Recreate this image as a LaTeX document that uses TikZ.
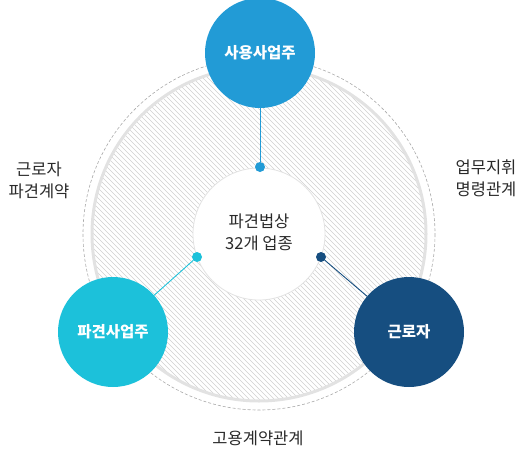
\documentclass[tikz,border=0pt]{standalone}
\usepackage{fontspec}
\setmainfont{Noto Sans CJK KR}
\usetikzlibrary{positioning}
\definecolor{usercol}{HTML}{229BD6}
\definecolor{dispcol}{HTML}{1CC1DA}
\definecolor{workcol}{HTML}{164E80}
\definecolor{txtcol}{HTML}{2A2A2A}
\definecolor{ringcol}{HTML}{E2E2E2}
\definecolor{hatchcol}{HTML}{D0D0D0}
\definecolor{dashcol}{HTML}{AAAAAA}
\tikzset{
  party/.style={circle, minimum size=110pt, inner sep=0pt, text=white, font=\fontsize{15.5}{18}\selectfont\bfseries},
  dot/.style={circle, minimum size=10pt, inner sep=0pt},
  conn/.style={line width=0.9pt},
  relation/.style={align=center, text=txtcol, font=\fontsize{16.5}{22}\selectfont},
  hatch/.style={hatchcol, line width=0.5pt}
}

\begin{document}
\begin{tikzpicture}[x=1pt, y=-1pt]
\useasboundingbox (0,0) rectangle (524,455);
\coordinate (c) at (259,234);
% outer rings
\draw[dashcol, dash pattern=on 3pt off 2pt, line width=0.6pt] (c) circle (176);
\begin{scope}[shift={(c)}]
  \clip (0,0) circle (166);
  \foreach \i in {-240,-235,...,240}
    \draw[hatch] (\i-200,-200) -- ++(400,400);
\end{scope}
\draw[ringcol, line width=3pt] (c) circle (167);
% middle
\node[circle, fill=white, draw=ringcol, line width=0.8pt, minimum size=132pt, inner sep=0pt] (law) at (c) {};
\node[relation] at (259,232) {파견법상\\32개 업종};
% dots on the middle circle
\node[dot, fill=usercol] (duser) at (260,167) {};
\node[dot, fill=dispcol] (ddisp) at (197,257) {};
\node[dot, fill=workcol] (dwork) at (321,257) {};
% parties
\node[party, fill=usercol] (user) at (260,53) {사용사업주};
\node[party, fill=dispcol] (disp) at (113,332) {파견사업주};
\node[party, fill=workcol] (work) at (409,332) {근로자};
\draw[conn, usercol] (duser) -- (user);
\draw[conn, dispcol] (ddisp) -- (disp);
\draw[conn, workcol] (dwork) -- (work);
% relations
\node[relation] (contract) at (39,180) {근로자\\파견계약};
\node[relation] (command) at (486,178) {업무지휘\\명령관계};
\node[relation] (employ) at (258,438) {고용계약관계};
\end{tikzpicture}
\end{document}
